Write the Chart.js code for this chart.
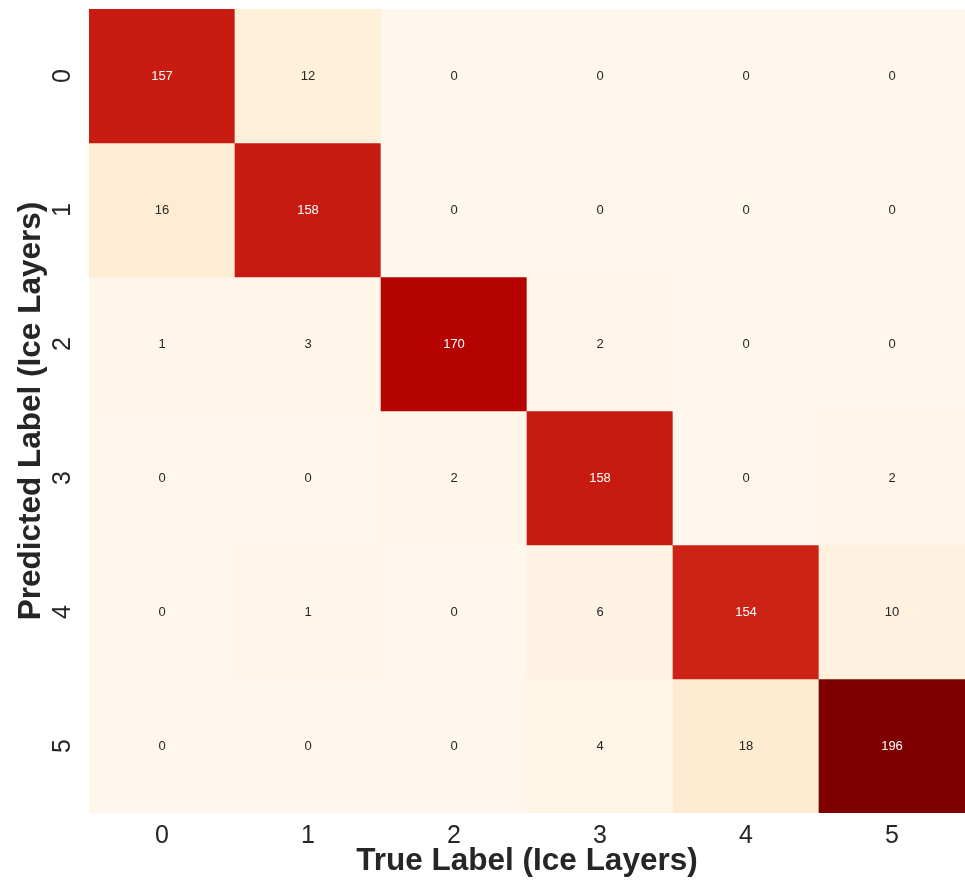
<!DOCTYPE html>
<html>
<head>
<meta charset="utf-8">
<script src="https://cdn.jsdelivr.net/npm/chart.js@4.4.1/dist/chart.umd.min.js"></script>
<style>
  html, body { margin: 0; padding: 0; background: #ffffff; }
  #wrap { width: 965px; height: 887px; position: relative; }
</style>
</head>
<body>
<div id="wrap"><canvas id="cm"></canvas></div>
<script>
// Confusion matrix of ice-layer classes: rows = predicted label, columns = true label
const trueLabels = ['0', '1', '2', '3', '4', '5'];
const predictedLabels = ['0', '1', '2', '3', '4', '5'];

const predicted0 = [157, 12, 0, 0, 0, 0];
const predicted1 = [16, 158, 0, 0, 0, 0];
const predicted2 = [1, 3, 170, 2, 0, 0];
const predicted3 = [0, 0, 2, 158, 0, 2];
const predicted4 = [0, 1, 0, 6, 154, 10];
const predicted5 = [0, 0, 0, 4, 18, 196];

const rows = [predicted0, predicted1, predicted2, predicted3, predicted4, predicted5];

// OrRd colour ramp
const ramp = [
  [255, 247, 236], [254, 232, 200], [253, 212, 158], [253, 187, 132],
  [252, 141, 89], [239, 101, 72], [215, 48, 31], [179, 0, 0], [127, 0, 0]
];
const vmin = 0;
const vmax = Math.max(...rows.flat());

function rampRGB(v) {
  let t = (v - vmin) / (vmax - vmin);
  t = Math.max(0, Math.min(1, t));
  const pos = t * (ramp.length - 1);
  const i = Math.min(Math.floor(pos), ramp.length - 2);
  const f = pos - i;
  return ramp[i].map((c, k) => Math.round(c + (ramp[i + 1][k] - c) * f));
}
function rgbStr(c) { return 'rgb(' + c[0] + ',' + c[1] + ',' + c[2] + ')'; }
function luminance(c) {
  const lin = c.map(x => {
    x /= 255;
    return x <= 0.03928 ? x / 12.92 : Math.pow((x + 0.055) / 1.055, 2.4);
  });
  return 0.2126 * lin[0] + 0.7152 * lin[1] + 0.0722 * lin[2];
}

// one floating-bar dataset per predicted row, spanning [row, row + 1] on the y scale
const datasets = rows.map((vals, r) => ({
  label: 'Predicted ' + predictedLabels[r],
  data: vals.map(() => [r, r + 1]),
  counts: vals,
  backgroundColor: vals.map(v => rgbStr(rampRGB(v))),
  borderWidth: 0,
  barPercentage: 1,
  categoryPercentage: 1,
  grouped: false
}));

const FONT = "'Liberation Sans', Arial, Helvetica, sans-serif";
const INK = '#262626';

// cell annotations and rotated row labels
const cellText = {
  id: 'cellText',
  afterDatasetsDraw(chart) {
    const ctx = chart.ctx;
    ctx.save();
    ctx.font = '13px ' + FONT;
    ctx.textAlign = 'center';
    ctx.textBaseline = 'middle';
    chart.data.datasets.forEach((ds, di) => {
      const meta = chart.getDatasetMeta(di);
      meta.data.forEach((bar, i) => {
        const v = ds.counts[i];
        const c = rampRGB(v);
        ctx.fillStyle = luminance(c) > 0.408 ? INK : '#ffffff';
        const cy = (bar.y + bar.base) / 2;
        ctx.fillText(String(v), bar.x, cy);
      });
    });
    // row tick labels, rotated
    const y = chart.scales.y;
    ctx.font = '25px ' + FONT;
    ctx.fillStyle = INK;
    predictedLabels.forEach((lab, r) => {
      const py = y.getPixelForValue(r + 0.5);
      ctx.save();
      ctx.translate(63, py);
      ctx.rotate(-Math.PI / 2);
      ctx.fillText(lab, 0, 0);
      ctx.restore();
    });
    ctx.restore();
  }
};

new Chart(document.getElementById('cm'), {
  type: 'bar',
  data: { labels: trueLabels, datasets },
  options: {
    responsive: true,
    maintainAspectRatio: false,
    animation: false,
    layout: { padding: { top: 9, right: 0, bottom: 0, left: 0 } },
    plugins: { legend: { display: false }, tooltip: { enabled: false } },
    scales: {
      x: {
        type: 'category',
        offset: true,
        grid: { display: false, drawTicks: false },
        border: { display: false },
        ticks: { color: INK, font: { family: FONT, size: 25 }, padding: 8, maxRotation: 0 },
        title: {
          display: true,
          text: 'True Label (Ice Layers)',
          color: INK,
          font: { family: FONT, size: 31.5, weight: 'bold' },
          padding: { top: 0, bottom: 7 }
        },
        afterFit(scale) { scale.height = 74; }
      },
      y: {
        type: 'linear',
        min: 0,
        max: rows.length,
        reverse: true,
        grid: { display: false, drawTicks: false },
        border: { display: false },
        ticks: { display: false },
        title: {
          display: true,
          text: 'Predicted Label (Ice Layers)',
          color: INK,
          font: { family: FONT, size: 31.5, weight: 'bold' },
          padding: { top: 12, bottom: 0 }
        },
        afterFit(scale) { scale.width = 89; }
      }
    }
  },
  plugins: [cellText]
});
</script>
</body>
</html>
